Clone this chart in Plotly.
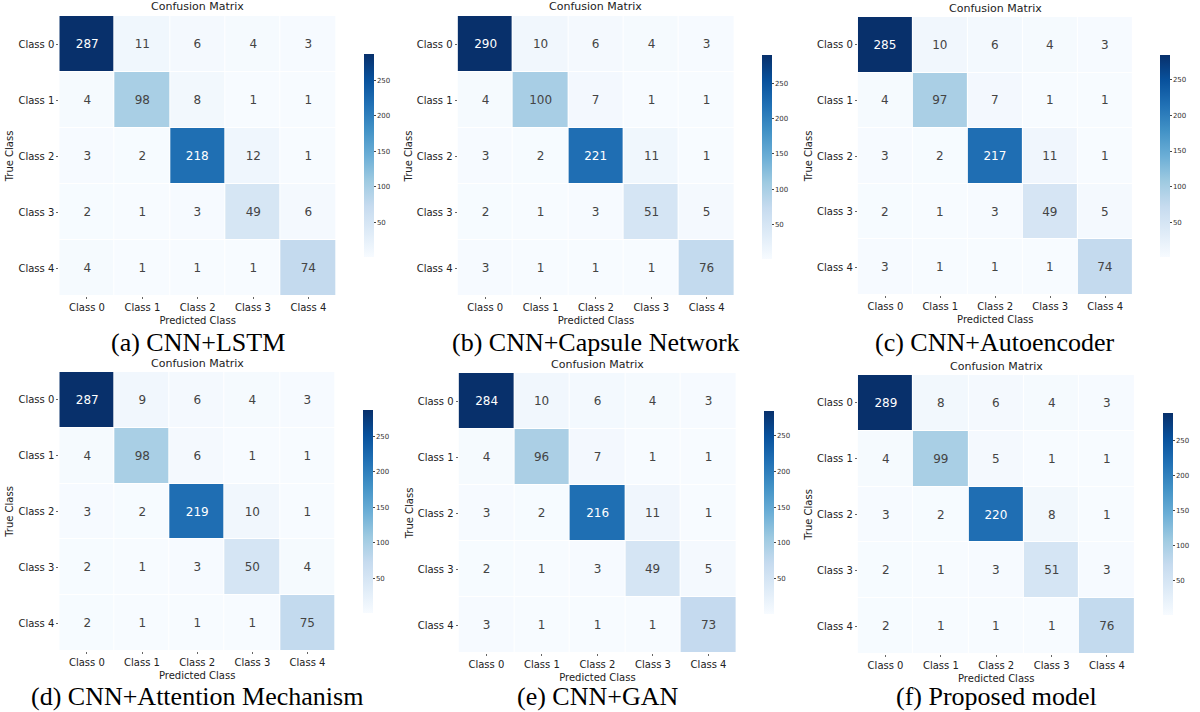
import plotly.graph_objects as go
import plotly.express as px

classes = ["Class 0", "Class 1", "Class 2", "Class 3", "Class 4"]

cm_lstm = [[287, 11, 6, 4, 3],
           [4, 98, 8, 1, 1],
           [3, 2, 218, 12, 1],
           [2, 1, 3, 49, 6],
           [4, 1, 1, 1, 74]]
cm_capsule = [[290, 10, 6, 4, 3],
              [4, 100, 7, 1, 1],
              [3, 2, 221, 11, 1],
              [2, 1, 3, 51, 5],
              [3, 1, 1, 1, 76]]
cm_autoenc = [[285, 10, 6, 4, 3],
              [4, 97, 7, 1, 1],
              [3, 2, 217, 11, 1],
              [2, 1, 3, 49, 5],
              [3, 1, 1, 1, 74]]
cm_attention = [[287, 9, 6, 4, 3],
                [4, 98, 6, 1, 1],
                [3, 2, 219, 10, 1],
                [2, 1, 3, 50, 4],
                [2, 1, 1, 1, 75]]
cm_gan = [[284, 10, 6, 4, 3],
          [4, 96, 7, 1, 1],
          [3, 2, 216, 11, 1],
          [2, 1, 3, 49, 5],
          [3, 1, 1, 1, 73]]
cm_proposed = [[289, 8, 6, 4, 3],
               [4, 99, 5, 1, 1],
               [3, 2, 220, 8, 1],
               [2, 1, 3, 51, 3],
               [2, 1, 1, 1, 76]]

matrices = [cm_lstm, cm_capsule, cm_autoenc, cm_attention, cm_gan, cm_proposed]
captions = ["(a) CNN+LSTM", "(b) CNN+Capsule Network", "(c) CNN+Autoencoder",
            "(d) CNN+Attention Mechanism", "(e) CNN+GAN", "(f) Proposed model"]
cbar_ticks = [50, 100, 150, 200, 250]

W, H = 1200, 712


def fx(px_):
    return px_ / W


def fy(py_):
    return 1 - py_ / H


# pixel boxes: heatmap (x0, x1, y0, y1), colorbar (x0, y0, y1), caption centre y
boxes = [
    (60, 340, 16, 296, 358, 44, 267, 342),
    (463, 743, 16, 296, 761, 45, 269, 342),
    (868, 1146, 17, 295, 1164, 45, 267, 342),
    (60, 339, 372, 651, 357, 400, 623, 696),
    (464, 745, 373, 653, 763, 401, 624, 696),
    (868, 1148, 375, 654, 1167, 403, 625, 696),
]

blues = px.colors.sequential.Blues

fig = go.Figure()
annotations = []
font_main = "DejaVu Sans"
for i, (cm, cap, b) in enumerate(zip(matrices, captions, boxes)):
    x0, x1, y0, y1, cx, cy0, cy1, capy = b
    n = "" if i == 0 else str(i + 1)
    flat = [v for row in cm for v in row]
    fig.add_trace(go.Heatmap(
        z=cm, x=classes, y=classes,
        xaxis="x" + n, yaxis="y" + n,
        colorscale=blues, zmin=min(flat), zmax=max(flat),
        xgap=1, ygap=1,
        texttemplate="%{z}", textfont=dict(size=12, family=font_main),
        hoverinfo="z",
        colorbar=dict(
            x=fx(cx), xanchor="left", xref="paper",
            y=fy(cy0), yanchor="top", len=(cy1 - cy0) / H, lenmode="fraction",
            thickness=10, outlinewidth=0,
            tickvals=cbar_ticks, ticks="outside", ticklen=2, tickcolor="#444",
            tickfont=dict(size=7, family=font_main, color="#333"),
        ),
    ))
    common = dict(showgrid=False, zeroline=False, showline=False,
                  ticks="outside", ticklen=2, tickcolor="#666",
                  tickfont=dict(size=10, family=font_main, color="#222"))
    fig.layout["xaxis" + n] = dict(domain=[fx(x0), fx(x1)], anchor="y" + n,
                                   title=dict(text="Predicted Class", standoff=4,
                                              font=dict(size=10, family=font_main, color="#222")),
                                   **common)
    fig.layout["yaxis" + n] = dict(domain=[fy(y1), fy(y0)], anchor="x" + n,
                                   autorange="reversed",
                                   title=dict(text="True Class", standoff=2,
                                              font=dict(size=10, family=font_main, color="#222")),
                                   **common)
    annotations.append(dict(text="Confusion Matrix", x=fx((x0 + x1) / 2), y=fy(y0 - 9),
                            xref="paper", yref="paper", showarrow=False,
                            xanchor="center", yanchor="middle",
                            font=dict(size=11, family=font_main, color="#222")))
    annotations.append(dict(text=cap, x=fx((x0 + x1) / 2), y=fy(capy),
                            xref="paper", yref="paper", showarrow=False,
                            xanchor="center", yanchor="middle", borderpad=0,
                            font=dict(size=26, family="Liberation Serif", color="#000")))

fig.update_layout(width=W, height=H, margin=dict(l=0, r=0, t=0, b=0),
                  paper_bgcolor="white", plot_bgcolor="white",
                  annotations=annotations, showlegend=False)
fig.write_html("out.html", config={"displayModeBar": False},
               post_script="document.body.style.margin='0';document.body.style.overflow='hidden';")
